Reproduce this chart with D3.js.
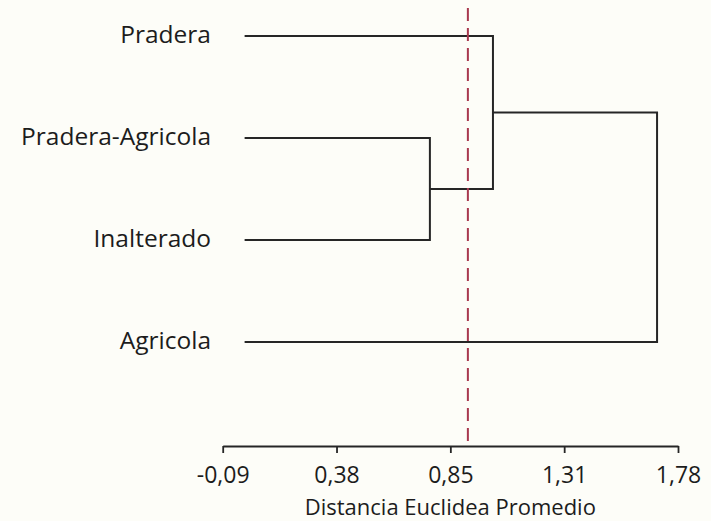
<!DOCTYPE html>
<html>
<head>
<meta charset="utf-8">
<script src="https://cdn.jsdelivr.net/npm/d3@7"></script>
<style>
  html, body { margin: 0; padding: 0; background: #fdfdf8; }
  svg { display: block; }
  text { font-family: "Open Sans", "DejaVu Sans", sans-serif; fill: #1c1c1c; }
</style>
</head>
<body>
<svg id="chart" width="711" height="521"></svg>
<script>
// Leaves of the dendrogram, top to bottom
const leaves = ["Pradera", "Pradera-Agricola", "Inalterado", "Agricola"];

// Agglomeration steps (hclust style): negative = leaf (1-based), positive = earlier step
const mergeLeft = [-2, -1, 2];
const mergeRight = [-3, 1, -4];
const mergeHeight = [0.761, 1.020, 1.694];

// Cut level drawn as a dashed reference line
const cutHeight = 0.917;

// Axis ticks and their printed labels
const tickValues = [-0.09, 0.3775, 0.845, 1.3125, 1.78];
const tickLabels = ["-0,09", "0,38", "0,85", "1,31", "1,78"];
const axisTitle = "Distancia Euclidea Promedio";

const fontSize = "24.5px";
const svg = d3.select("#chart");

const x = d3.scaleLinear().domain([-0.09, 1.78]).range([222.7, 678]);
const y = d3.scalePoint().domain(leaves).range([36, 342]);
const axisY = 446;

// Build node positions: leaves at height 0, merges at their height, centred between children
function node(id) {
  if (id < 0) {
    const name = leaves[-id - 1];
    return { h: 0, y: y(name) };
  }
  return merged[id - 1];
}
const merged = [];
const links = [];
mergeLeft.forEach((l, i) => {
  const a = node(l), b = node(mergeRight[i]);
  const h = mergeHeight[i];
  const m = { h: h, y: (a.y + b.y) / 2 };
  merged.push(m);
  // horizontal runs from each child to the merge height, then the vertical join
  links.push([[x(a.h), a.y], [x(h), a.y], [x(h), b.y], [x(b.h), b.y]]);
});

const line = d3.line();
svg.append("g")
  .selectAll("path")
  .data(links)
  .join("path")
  .attr("d", d => line(d))
  .attr("fill", "none")
  .attr("stroke", "#262626")
  .attr("stroke-width", 2);

// Leaf labels
svg.append("g")
  .selectAll("text")
  .data(leaves)
  .join("text")
  .attr("x", 211)
  .attr("y", d => y(d))
  .attr("dy", "0.28em")
  .attr("text-anchor", "end")
  .style("font-size", fontSize)
  .text(d => d);

// Cut line
svg.append("line")
  .attr("x1", x(cutHeight)).attr("x2", x(cutHeight))
  .attr("y1", 8).attr("y2", axisY)
  .attr("stroke", "#a8394f")
  .attr("stroke-width", 2)
  .attr("stroke-dasharray", "13,7");

// Axis
const axis = d3.axisBottom(x)
  .tickValues(tickValues)
  .tickFormat((d, i) => tickLabels[i])
  .tickSize(7)
  .tickSizeOuter(0)
  .tickPadding(14);

const gAxis = svg.append("g")
  .attr("transform", `translate(0,${axisY})`)
  .call(axis);
gAxis.select(".domain").attr("stroke", "#262626").attr("stroke-width", 1.8);
gAxis.selectAll(".tick line").attr("stroke", "#262626").attr("stroke-width", 1.8);
gAxis.selectAll(".tick text")
  .style("font-size", "23px")
  .style("font-family", "'Open Sans', 'DejaVu Sans', sans-serif")
  .attr("fill", "#1c1c1c");

svg.append("text")
  .attr("x", (x(-0.09) + x(1.78)) / 2)
  .attr("y", 515)
  .attr("text-anchor", "middle")
  .style("font-size", "22px")
  .text(axisTitle);
</script>
</body>
</html>
